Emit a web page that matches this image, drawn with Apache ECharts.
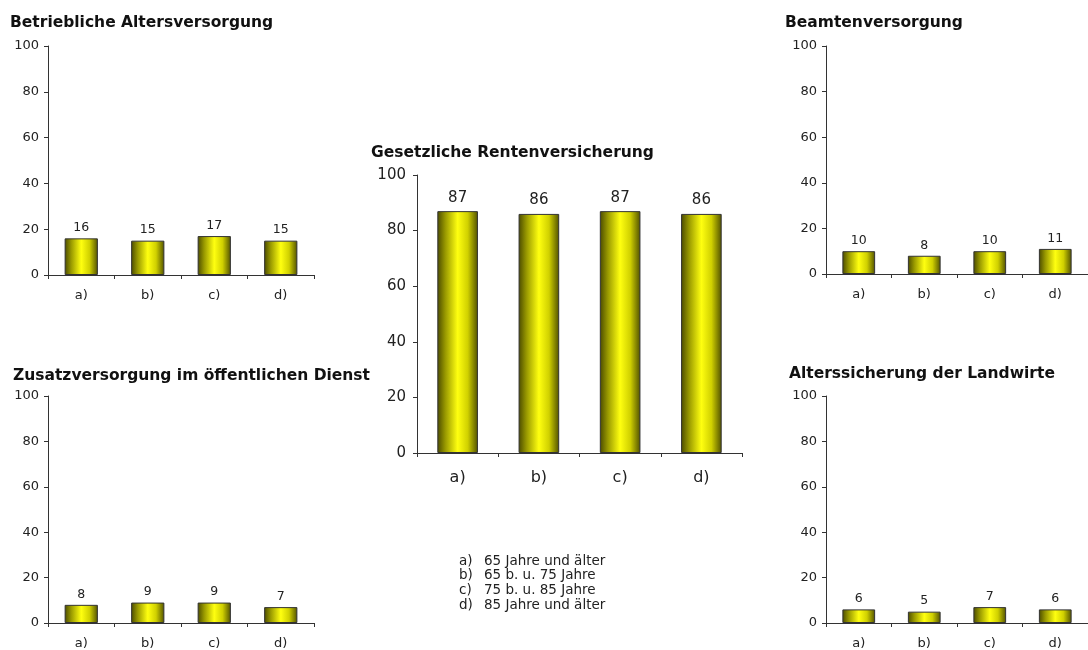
<!DOCTYPE html>
<html>
<head>
<meta charset="utf-8">
<script src="https://cdn.jsdelivr.net/npm/echarts@6/dist/echarts.min.js"></script>
<style>
html,body{margin:0;padding:0;background:#fff;}
#c{width:1088px;height:650px;}
</style>
</head>
<body>
<div id="c"></div>
<script>
var categories = ['a)', 'b)', 'c)', 'd)'];
var betrieblich = [16, 15, 17, 15];
var gesetzlich = [87, 86, 87, 86];
var beamten = [10, 8, 10, 11];
var zusatz = [8, 9, 9, 7];
var landwirte = [6, 5, 7, 6];
var titles = ['Betriebliche Altersversorgung', 'Gesetzliche Rentenversicherung', 'Beamtenversorgung', 'Zusatzversorgung im öffentlichen Dienst', 'Alterssicherung der Landwirte'];
var legendKeys = ['a)', 'b)', 'c)', 'd)'];
var legendTexts = ['65 Jahre und älter', '65 b. u. 75 Jahre', '75 b. u. 85 Jahre', '85 Jahre und älter'];

var FONT = 'DejaVu Sans, Verdana, sans-serif';
var TXT = '#222';

var panels = [
  {data: betrieblich, title: titles[0], grid: {left: 48, top: 46, width: 266, height: 229}, tx: 10, ty: 15, big: false},
  {data: gesetzlich, title: titles[1], grid: {left: 417, top: 175, width: 325, height: 278}, tx: 371, ty: 145, big: true},
  {data: beamten, title: titles[2], grid: {left: 826, top: 46, width: 266, height: 228}, tx: 785, ty: 15, big: false},
  {data: zusatz, title: titles[3], grid: {left: 48, top: 396, width: 266, height: 228}, tx: 13, ty: 368, big: false},
  {data: landwirte, title: titles[4], grid: {left: 826, top: 396, width: 266, height: 228}, tx: 789, ty: 366, big: false}
];

var barGradient = {
  type: 'linear', x: 0, y: 0, x2: 1, y2: 0,
  colorStops: [
    {offset: 0, color: '#4a4a00'},
    {offset: 0.2, color: '#9a9a00'},
    {offset: 0.5, color: '#ffff10'},
    {offset: 0.75, color: '#d0d000'},
    {offset: 1, color: '#505000'}
  ]
};

var option = {
  animation: false,
  backgroundColor: '#fff',
  title: [],
  grid: [],
  xAxis: [],
  yAxis: [],
  series: [],
  graphic: []
};

panels.forEach(function (p, i) {
  option.title.push({
    text: p.title, left: p.tx, top: p.ty, padding: 0,
    textStyle: {fontFamily: FONT, fontWeight: 'bold', fontSize: 15.5, color: '#111'}
  });
  option.grid.push(Object.assign({containLabel: false}, p.grid));
  option.xAxis.push({
    type: 'category', gridIndex: i, data: categories,
    axisLine: {lineStyle: {color: '#333', width: 1}},
    axisTick: {show: true, length: 4, lineStyle: {color: '#333'}},
    axisLabel: {fontFamily: FONT, fontSize: p.big ? 16 : 13, color: TXT, margin: p.big ? 17 : 14}
  });
  option.yAxis.push({
    type: 'value', gridIndex: i, min: 0, max: 100, interval: 20,
    axisLine: {show: true, lineStyle: {color: '#333', width: 1}},
    axisTick: {show: true, length: 4, lineStyle: {color: '#333'}},
    splitLine: {show: false},
    axisLabel: {fontFamily: FONT, fontSize: p.big ? 15 : 13, color: TXT, margin: p.big ? 11 : 9}
  });
  option.series.push({
    type: 'bar', xAxisIndex: i, yAxisIndex: i, data: p.data,
    barWidth: '50%',
    itemStyle: {color: barGradient, borderColor: '#333', borderWidth: 1},
    label: {show: true, position: 'top', distance: p.big ? 6 : 4, fontFamily: FONT, fontSize: p.big ? 15 : 12.5, color: TXT}
  });
});

legendKeys.forEach(function (k, j) {
  option.graphic.push({
    type: 'text', left: 459, top: 554 + j * 14.7,
    style: {text: k, font: '13.5px ' + FONT, fill: TXT}
  });
  option.graphic.push({
    type: 'text', left: 484, top: 554 + j * 14.7,
    style: {text: legendTexts[j], font: '13.5px ' + FONT, fill: TXT}
  });
});

var chart = echarts.init(document.getElementById('c'), null, {renderer: 'canvas'});
chart.setOption(option);
</script>
</body>
</html>
